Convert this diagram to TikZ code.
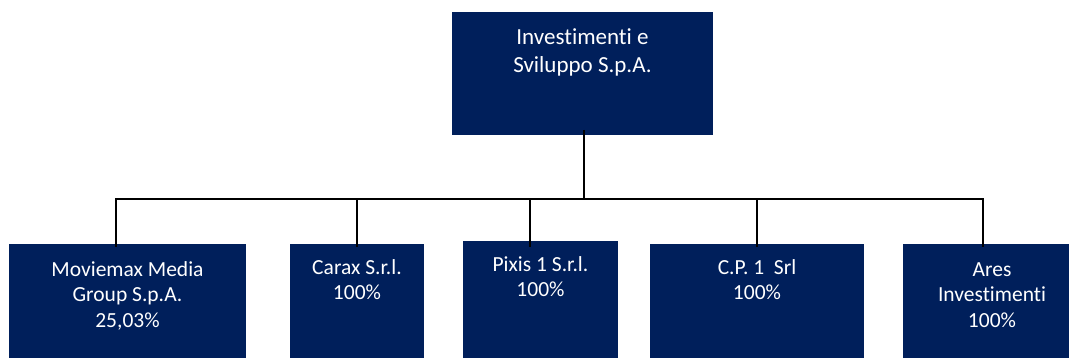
\documentclass[tikz,border=0pt]{standalone}
\usepackage{fontspec}
\setmainfont[Ligatures=NoCommon]{Carlito}
\definecolor{boxblue}{HTML}{001F5B}
\begin{document}
\begin{tikzpicture}[x=1pt,y=-1pt,
  orgbox/.style={fill=boxblue, draw=none, inner sep=0pt, outer sep=0pt},
  orgtext/.style={text=white, align=center, inner sep=0pt, anchor=base,
    font=\fontsize{21.5}{25.5}\selectfont},
  toptext/.style={orgtext, font=\fontsize{23}{28}\selectfont},
  link/.style={draw=black, line width=1.8pt}]
\useasboundingbox (0,0) rectangle (1069,358);
% boxes
\node[orgbox, minimum width=261pt, minimum height=123pt] (top) at (582.5,73.5) {};
\node[orgbox, minimum width=237pt, minimum height=114pt] (b1) at (127.5,301) {};
\node[orgbox, minimum width=134pt, minimum height=114pt] (b2) at (357,301) {};
\node[orgbox, minimum width=155pt, minimum height=117pt] (b3) at (540.5,299.5) {};
\node[orgbox, minimum width=214pt, minimum height=114pt] (b4) at (757,301) {};
\node[orgbox, minimum width=178pt, minimum height=114pt] (b5) at (992,301) {};
% texts (anchor base = baseline of last line)
\node[toptext] (ttop) at (582.5,73) {Investimenti e\\Sviluppo S.p.A.};
\node[orgtext] (t1) at (127.5,327) {Moviemax Media\\Group S.p.A.\\25,03\%};
\node[orgtext] (t2) at (357,300) {Carax S.r.l.\\100\%};
\node[orgtext] (t3) at (540.5,297) {Pixis 1 S.r.l.\\100\%};
\node[orgtext] (t4) at (757,300) {C.P. 1~~Srl\\100\%};
\node[orgtext] (t5) at (992,327) {Ares\\Investimenti\\100\%};
% connector points
\coordinate (bus) at (0,199);
\coordinate (d0) at (584,130);
\coordinate (d1) at (116,247);
\coordinate (d2) at (357,247);
\coordinate (d3) at (530,247);
\coordinate (d4) at (757,247);
\coordinate (d5) at (983,247);
% connectors
\draw[link] (d0) -- (d0 |- bus);
\draw[link] (d1) |- (d5 |- bus) -- (d5);
\draw[link] (d2 |- bus) -- (d2);
\draw[link] (d3 |- bus) -- (d3);
\draw[link] (d4 |- bus) -- (d4);
\end{tikzpicture}
\end{document}
